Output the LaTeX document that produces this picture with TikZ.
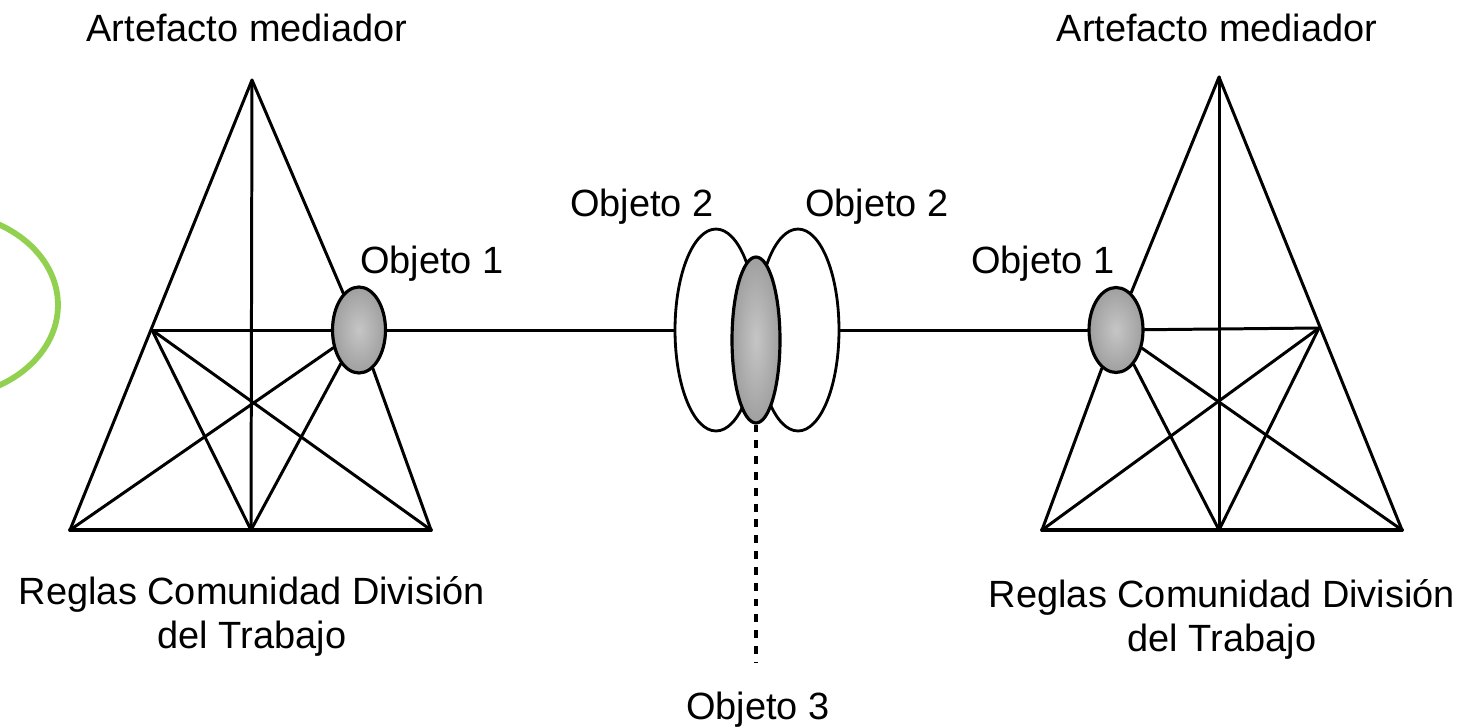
\documentclass[tikz,border=0pt]{standalone}
\usepackage{fontspec}
\setmainfont{Liberation Sans}
\usetikzlibrary{shapes.geometric}
\definecolor{verde}{RGB}{146,208,80}

\begin{document}
\begin{tikzpicture}[x=0.02cm,y=-0.02cm,
  tri/.style={line width=1.7pt,line cap=round},
  obj/.style={ellipse,draw,line width=1.8pt,inner sep=0pt,inner color=gray!45,outer color=gray!75},
  nube/.style={ellipse,draw,fill=white,line width=1.6pt,inner sep=0pt,minimum width=1.64cm,minimum height=4.04cm},
  lab/.style={font=\fontsize{21.6}{24.5}\selectfont,anchor=base,inner sep=0pt,align=center}]
\useasboundingbox (0,0) rectangle (1463,727);

\begin{scope}
\clip (0,0) rectangle (1463,727);
\draw [verde,line width=3.3pt] (-60,305) ellipse [x radius=2.36cm,y radius=1.86cm];
\end{scope}

% sistema de la izquierda
\coordinate (LA) at (252,80);
\coordinate (LB1) at (70,530);
\coordinate (LB2) at (251,530);
\coordinate (LB3) at (431,530);
\coordinate (LS) at (152,330);
\node [obj,minimum width=1.06cm,minimum height=1.72cm] (LO) at (359,330) {};

\draw [tri] (LA) -- (LB1);
\draw [tri] (LA) -- (LB2);
\draw [tri] (LA) -- (LO);
\draw [tri] (LO) -- (LB3);
\draw [tri,line width=2.2pt] (LB1) -- (LB3);
\draw [tri] (LS) -- (LO);
\draw [tri] (LS) -- (LB3);
\draw [tri] (LS) -- (LB2);
\draw [tri] (LO) -- (LB1);
\draw [tri] (LO) -- (LB2);

% sistema de la derecha
\coordinate (RA) at (1219,77);
\coordinate (RB1) at (1042,530);
\coordinate (RB2) at (1219,530);
\coordinate (RB3) at (1402,530);
\coordinate (RS) at (1319,328);
\node [obj,minimum width=1.08cm,minimum height=1.7cm] (RO) at (1116,330) {};

\draw [tri] (RA) -- (RB2);
\draw [tri] (RA) -- (RB3);
\draw [tri] (RA) -- (RO);
\draw [tri] (RO) -- (RB1);
\draw [tri,line width=2.2pt] (RB1) -- (RB3);
\draw [tri] (RO) -- (RS);
\draw [tri] (RS) -- (RB1);
\draw [tri] (RS) -- (RB2);
\draw [tri] (RO) -- (RB3);
\draw [tri] (RO) -- (RB2);

% objetos compartidos
\node [nube] (M1) at (716,330) {};
\node [nube] (M2) at (798,330) {};
\node [obj,minimum width=0.96cm,minimum height=3.32cm] (M3) at (756,340) {};
\coordinate (O3) at (756,662);

\draw [tri] (LO) -- (M1);
\draw [tri] (M2) -- (RO);
\draw [line width=1.8pt,dash pattern=on 4.5pt off 4.5pt] (M3) -- (O3);

% textos
\node [lab] (tLA) at (247,41) {Artefacto mediador};
\node [lab] (tRA) at (1217,41) {Artefacto mediador};
\node [lab] (tLO) at (432,273) {Objeto 1};
\node [lab] (tRO) at (1043,273) {Objeto 1};
\node [lab] (tM1) at (642,216) {Objeto 2};
\node [lab] (tM2) at (877,216) {Objeto 2};
\node [lab] (tO3) at (758,719) {Objeto 3};
\node [lab] (tLB) at (252,648) {Reglas Comunidad División\\del Trabajo};
\node [lab] (tRB) at (1222,651) {Reglas Comunidad División\\del Trabajo};
\end{tikzpicture}
\end{document}
